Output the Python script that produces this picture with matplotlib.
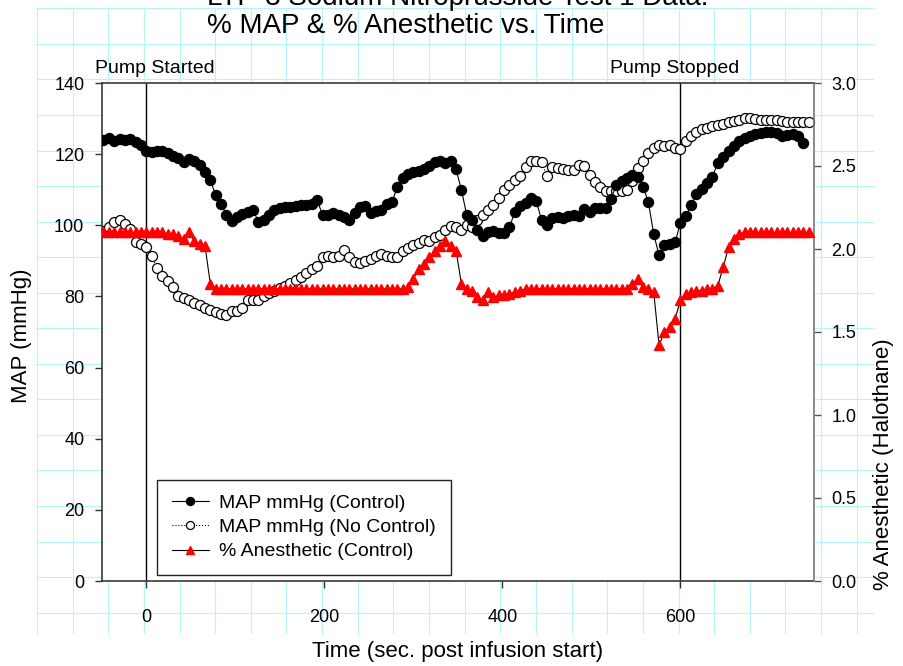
import numpy as np
import matplotlib
matplotlib.use("Agg")
import matplotlib.pyplot as plt

plt.rcParams["font.family"] = ["Liberation Sans", "DejaVu Sans"]

# sample instants (sec. post infusion start)
time_s = [
    -48, -42, -36, -30, -24, -18, -12, -6, 0, 6, 12, 18, 24, 30, 36, 42, 48, 54, 60, 66,
    72, 78, 84, 90, 96, 102, 108, 114, 120, 126, 132, 138, 144, 150, 156, 162, 168, 174, 180, 186,
    192, 198, 204, 210, 216, 222, 228, 234, 240, 246, 252, 258, 264, 270, 276, 282, 288, 294, 300, 306,
    312, 318, 324, 330, 336, 342, 348, 354, 360, 366, 372, 378, 384, 390, 396, 402, 408, 414, 420, 426,
    432, 438, 444, 450, 456, 462, 468, 474, 480, 486, 492, 498, 504, 510, 516, 522, 528, 534, 540, 546,
    552, 558, 564, 570, 576, 582, 588, 594, 600, 606, 612, 618, 624, 630, 636, 642, 648, 654, 660, 666,
    672, 678, 684, 690, 696, 702, 708, 714, 720, 726, 732, 738, 744,
]

# MAP mmHg with controller
map_control = [
    124, 124.5, 123.8, 124.2, 124, 124.3, 123.5, 122.5, 121, 120.7, 121, 120.8, 120.2, 119.6, 119, 117.8, 118.5, 118, 117, 115,
    112.7, 108.5, 106, 103, 101.3, 102.4, 103.2, 103.8, 104.3, 101, 101.5, 103, 104.3, 104.8, 105.2, 105.2, 105.3, 105.6, 105.8, 106.1,
    107, 103, 102.8, 103.4, 103, 102.3, 101.6, 103.5, 105.2, 105.5, 103.4, 104, 104.3, 106, 106.5, 110.8, 113.4, 114.4, 115, 115.3,
    115.8, 116.8, 117.8, 118.2, 117.4, 118, 115.7, 110, 102.8, 101.5, 98.7, 97, 98, 98.3, 97.7, 97.7, 99.5, 103.8, 105.4, 106.3,
    107.6, 106.9, 101.5, 100, 102, 102.4, 102, 102.6, 102.8, 102.5, 104.5, 103.6, 104.8, 104.8, 104.8, 107.5, 111.3, 112.5, 113.4, 114,
    113.5, 110.9, 106.5, 97.5, 91.6, 94.5, 94.8, 95.3, 100.6, 102.6, 105.6, 108.8, 110.3, 111.9, 113.7, 117.6, 119.1, 121, 122.3, 123.6,
    124.5, 125.2, 125.7, 126, 126.3, 126.2, 126, 125.2, 125.3, 125.8, 125, 123, np.nan,
]

# MAP mmHg without controller
map_no_control = [
    98.5, 99.5, 101, 101.5, 100.4, 99, 95.3, 94.8, 93.8, 91.5, 88, 85.8, 84.2, 82.6, 80.2, 79.6, 79, 78.2, 77.5, 76.7,
    76.3, 75.7, 75.2, 74.9, 75.8, 75.8, 76.8, 79, 79.1, 79, 80, 81, 81.4, 82.3, 83, 83.7, 84.5, 85.5, 86.6, 87.6,
    88.5, 91, 91.4, 91, 91.5, 93, 91, 89.7, 89.5, 89.9, 90.5, 91.4, 92, 91.3, 91.1, 91.1, 92.7, 93.7, 94.4, 95.1,
    95.9, 95.5, 96.6, 97.4, 98.8, 99.9, 99.5, 98.8, 100, 99.5, 101.6, 102.9, 104.2, 105.6, 107.8, 109.8, 111.3, 112.8, 113.9, 116.5,
    118, 118.1, 117.9, 113.8, 116.5, 116.2, 115.8, 115.5, 115.5, 117, 116.6, 114, 112.3, 110.8, 109.7, 109.7, 109.7, 109.5, 110, 112.4,
    116.2, 118.2, 120.2, 121.8, 122.5, 122.2, 122.7, 121.7, 121.4, 123.6, 125.1, 126.3, 127, 127.4, 128, 128.2, 128.5, 129.1, 129.4, 129.7,
    130.2, 130.3, 130, 129.7, 129.6, 129.6, 129.5, 129.2, 129.1, 129.1, 129.1, 129.1, 129.1,
]

# % anesthetic (halothane) with controller
anesthetic = [
    2.10, 2.10, 2.10, 2.10, 2.10, 2.10, 2.10, 2.10, 2.10, 2.10, 2.10, 2.10, 2.09, 2.09, 2.08, 2.06, 2.10, 2.05, 2.03, 2.02,
    1.79, 1.76, 1.76, 1.76, 1.76, 1.76, 1.76, 1.76, 1.76, 1.76, 1.76, 1.76, 1.76, 1.76, 1.76, 1.76, 1.76, 1.76, 1.76, 1.76,
    1.76, 1.76, 1.76, 1.76, 1.76, 1.76, 1.76, 1.76, 1.76, 1.76, 1.76, 1.76, 1.76, 1.76, 1.76, 1.76, 1.76, 1.77, 1.82, 1.88,
    1.91, 1.95, 1.99, 2.02, 2.05, 2.02, 1.99, 1.79, 1.76, 1.75, 1.71, 1.69, 1.74, 1.71, 1.72, 1.72, 1.73, 1.74, 1.75, 1.76,
    1.76, 1.76, 1.76, 1.76, 1.76, 1.76, 1.76, 1.76, 1.76, 1.76, 1.76, 1.76, 1.76, 1.76, 1.76, 1.76, 1.76, 1.76, 1.76, 1.79,
    1.82, 1.77, 1.76, 1.74, 1.42, 1.50, 1.53, 1.58, 1.69, 1.73, 1.74, 1.75, 1.75, 1.76, 1.76, 1.78, 1.89, 2.01, 2.06, 2.09,
    2.10, 2.10, 2.10, 2.10, 2.10, 2.10, 2.10, 2.10, 2.10, 2.10, 2.10, 2.10, 2.10,
]

pump_events = [0, 600]
pump_labels = ["Pump Started", "Pump Stopped"]

W, H = 904, 666
fig = plt.figure(figsize=(W / 100, H / 100), dpi=100)

# graph-paper background
bg = fig.add_axes([0, 0, 1, 1], zorder=-1)
bg.set_xlim(0, W)
bg.set_ylim(H, 0)
bg.axis("off")
for gx in np.arange(37, 860, 35.64):
    bg.plot([gx, gx], [8.3, 633.3], color="#b4f5f8", lw=0.8)
for gy in np.arange(8.3, 616, 35.55):
    bg.plot([37, 872.7], [gy, gy], color="#b4f5f8", lw=0.8)

left, right, top, bottom = 101.7, 814, 83, 581
ax = fig.add_axes([left / W, 1 - bottom / H, (right - left) / W, (bottom - top) / H])
ax2 = ax.twinx()

for t in pump_events:
    ax.axvline(t, color="black", lw=1.0, zorder=1)

l2, = ax.plot(time_s, map_no_control, linestyle=":", color="black", lw=0.8,
              marker="o", markersize=7.2, markerfacecolor="white",
              markeredgecolor="black", markeredgewidth=0.9, zorder=2)
l1, = ax.plot(time_s, map_control, linestyle="-", color="black", lw=0.8,
              marker="o", markersize=7.2, markerfacecolor="black",
              markeredgecolor="black", zorder=3)
l3, = ax2.plot(time_s, anesthetic, linestyle="-", color="black", lw=0.8,
               marker="^", markersize=7.5, markerfacecolor="red",
               markeredgecolor="red", zorder=3)

ax.set_xlim(-50, 750)
ax.set_ylim(0, 140)
ax2.set_ylim(0, 3.0)
ax.set_xticks([0, 200, 400, 600])
ax.set_yticks(np.arange(0, 141, 20))
ax2.set_yticks(np.arange(0, 3.01, 0.5))
ax2.set_yticklabels([f"{v:.1f}" for v in np.arange(0, 3.01, 0.5)])

ax.tick_params(axis="y", direction="out", length=5, width=1, pad=7.5, labelsize=13, color="#333333")
ax.tick_params(axis="x", direction="out", length=5, width=1, pad=15, labelsize=13, color="#333333")
ax2.tick_params(axis="y", direction="out", length=5, width=1, pad=7.5, labelsize=13, color="#555555")

for s in ["left", "top", "bottom"]:
    ax.spines[s].set_color("#3a3a3a")
    ax.spines[s].set_linewidth(1.2)
    ax2.spines[s].set_visible(False)
ax.spines["right"].set_visible(False)
ax2.spines["right"].set_color("#777777")
ax2.spines["right"].set_linewidth(1.2)

ax.text(-57, 1.021, pump_labels[0], transform=ax.get_xaxis_transform(),
        ha="left", va="baseline", fontsize=14)
ax.text(594, 1.021, pump_labels[1], transform=ax.get_xaxis_transform(),
        ha="center", va="baseline", fontsize=14)

fig.text(207 / W, 1 - 5 / H, "LTP-3 Sodium Nitroprusside Test 1 Data:",
         ha="left", va="baseline", fontsize=20)
fig.text(207 / W, 1 - 33.3 / H, "% MAP & % Anesthetic vs. Time",
         ha="left", va="baseline", fontsize=20)
fig.text(22 / W, 1 - 336 / H, "MAP (mmHg)", rotation=90,
         ha="center", va="center", fontsize=16)
fig.text(884 / W, 1 - 464 / H, "% Anesthetic (Halothane)", rotation=90,
         ha="center", va="center", fontsize=16)
fig.text(458 / W, 1 - 651 / H, "Time (sec. post infusion start)",
         ha="center", va="center", fontsize=16)

leg = ax2.legend(
    [l1, l2, l3],
    ["MAP mmHg (Control)", "MAP mmHg (No Control)", "% Anesthetic (Control)"],
    loc="lower left", bbox_to_anchor=(0.0776, 0.012), borderaxespad=0,
    fontsize=14, handlelength=1.9, handletextpad=0.55, labelspacing=0.34,
    markerscale=0.8, fancybox=False, framealpha=1, edgecolor="#222222",
    borderpad=0.75,
)
leg.get_frame().set_linewidth(1.0)

plt.savefig("out.png", dpi=100)
